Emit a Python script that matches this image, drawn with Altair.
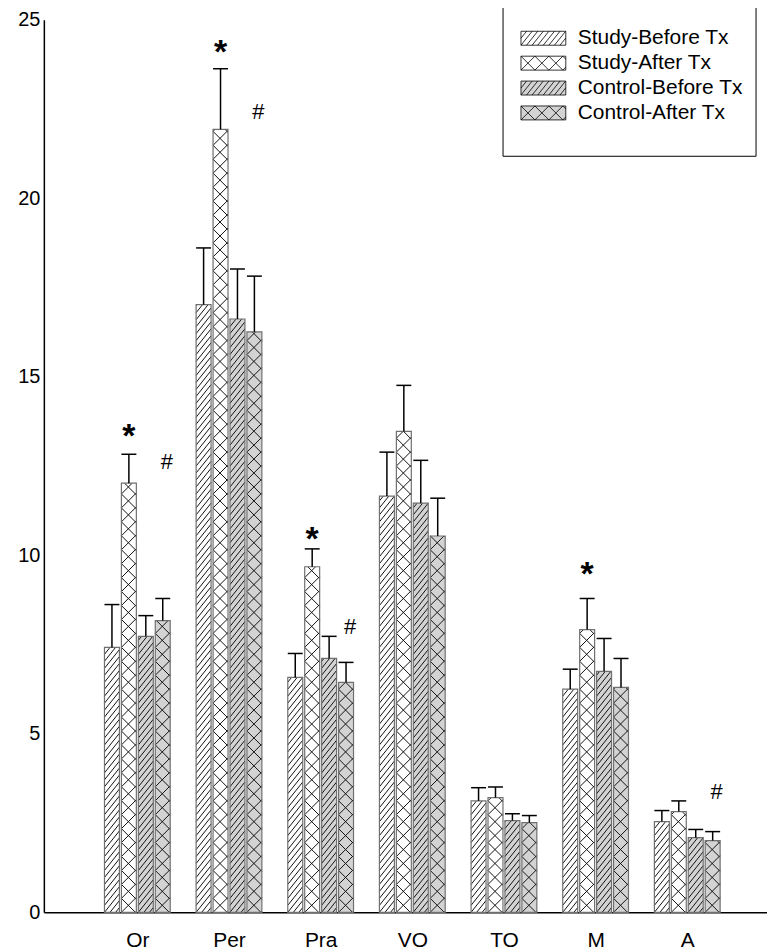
import altair as alt
import pandas as pd
import numpy as np

# ---------------- data ----------------
groups = ["Or", "Per", "Pra", "VO", "TO", "M", "A"]
series = ["Study-Before Tx", "Study-After Tx", "Control-Before Tx", "Control-After Tx"]

study_before = [7.42, 17.02, 6.58, 11.66, 3.12, 6.25, 2.54]
study_before_err = [1.20, 1.59, 0.67, 1.23, 0.37, 0.56, 0.31]
study_after = [12.02, 21.93, 9.68, 13.47, 3.21, 7.92, 2.82]
study_after_err = [0.81, 1.70, 0.50, 1.29, 0.30, 0.87, 0.30]
control_before = [7.73, 16.62, 7.11, 11.46, 2.57, 6.75, 2.09]
control_before_err = [0.58, 1.40, 0.62, 1.20, 0.19, 0.92, 0.23]
control_after = [8.17, 16.26, 6.44, 10.54, 2.51, 6.30, 2.01]
control_after_err = [0.62, 1.56, 0.56, 1.06, 0.20, 0.81, 0.25]

# significance marks: symbol, group index, series index, height
sig_symbol = ["*", "#", "*", "#", "*", "#", "*", "#"]
sig_group = [0, 0, 1, 1, 2, 2, 5, 6]
sig_series = [1, 3, 1, 3, 1, 3, 1, 3]
sig_y = [13.5, 12.61, 24.27, 22.43, 10.63, 8.0, 9.63, 3.38]

y_ticks = [0, 5, 10, 15, 20, 25]

# ---------------- layout / style ----------------
FONT = "Liberation Sans"
W, H = 726, 896
XMIN, XMAX = -1.02, 6.87
YMAX = 25
kx = W / (XMAX - XMIN)
ky = H / YMAX
BAR_W = 15.0   # px
BAR_STEP = 17.0  # px
fills = ["white", "white", "#d3d3d3", "#d3d3d3"]
pattern = ["diag", "cross", "diag", "cross"]
DIAG_SLOPE, DIAG_D = 1.25, 7.0
CROSS_SLOPE, CROSS_D = 1.0, 14.0

means = [study_before, study_after, control_before, control_after]
errs = [study_before_err, study_after_err, control_before_err, control_after_err]


def hatch(x0, x1, y0, y1, slope, d, sign):
    segs = []
    w = x1 - x0
    h = y1 - y0
    if sign > 0:
        cs = np.arange(-np.ceil(slope * w / d) * d, h + 1e-9, d)
    else:
        cs = np.arange(0, h + slope * w + 1e-9, d)
    for c in cs:
        xa = x0 + (-c) / (sign * slope)
        xb = x0 + (h - c) / (sign * slope)
        lo = max(x0, min(xa, xb))
        hi = min(x1, max(xa, xb))
        if hi - lo > 0.3:
            segs.append((lo, y0 + c + sign * slope * (lo - x0),
                         hi, y0 + c + sign * slope * (hi - x0)))
    return segs


def pattern_segments(kind, x0, x1, y0, y1):
    if kind == "diag":
        return hatch(x0, x1, y0, y1, DIAG_SLOPE, DIAG_D, 1)
    return hatch(x0, x1, y0, y1, CROSS_SLOPE, CROSS_D, 1) + hatch(x0, x1, y0, y1, CROSS_SLOPE, CROSS_D, -1)


bar_rows, hatch_rows = [], []
for s, name in enumerate(series):
    for g, grp in enumerate(groups):
        off = (s - 1.5) * BAR_STEP
        xc = g + off / kx
        xl = g + (off - BAR_W / 2) / kx
        xr = g + (off + BAR_W / 2) / kx
        m = means[s][g]
        e = errs[s][g]
        bar_rows.append(dict(group=grp, series=name, xc=xc, xl=xl, xr=xr,
                             mean=m, top=m + e, fillc=fills[s]))
        pl = (xl - XMIN) * kx
        pr = (xr - XMIN) * kx
        for (a, b, c, d) in pattern_segments(pattern[s], pl, pr, 0.0, m * ky):
            hatch_rows.append(dict(x=XMIN + a / kx, y=b / ky, x2=XMIN + c / kx, y2=d / ky))

bars = pd.DataFrame(bar_rows)
hatches = pd.DataFrame(hatch_rows)

sig_rows = []
for sym, g, s, y in zip(sig_symbol, sig_group, sig_series, sig_y):
    off = (s - 1.5) * BAR_STEP
    sig_rows.append(dict(sym=sym, x=g + off / kx, y=y))
sig = pd.DataFrame(sig_rows)

# legend symbol paths (unit = sqrt(size)/2 px)
LEG_SIZE = 196
unit = np.sqrt(LEG_SIZE) / 2
hw, hh = 22.5, 7.0


def legend_path(kind):
    p = f"M{-hw/unit:.3f},{-hh/unit:.3f}H{hw/unit:.3f}V{hh/unit:.3f}H{-hw/unit:.3f}Z"
    for (a, b, c, d) in pattern_segments(kind, -hw, hw, -hh, hh):
        p += f"M{a/unit:.3f},{-b/unit:.3f}L{c/unit:.3f},{-d/unit:.3f}"
    return p


shape_range = [legend_path(k) for k in pattern]

xs = alt.Scale(domain=[XMIN, XMAX], nice=False, zero=False)
ys = alt.Scale(domain=[0, YMAX], nice=False, zero=True)

label_expr = "[" + ",".join(f"'{g}'" for g in groups) + "][datum.value]"

x_axis = alt.Axis(values=list(range(len(groups))), labelExpr=label_expr, title=None,
                  ticks=False, tickSize=0, grid=False, labelFont=FONT, labelFontSize=21,
                  labelPadding=17, labelColor="black", domainColor="black", domainWidth=1.5)
y_axis = alt.Axis(values=y_ticks, title=None, ticks=False, tickSize=0, grid=False,
                  labelFont=FONT, labelFontSize=20, labelPadding=4, labelColor="black",
                  domainColor="black", domainWidth=1.5)

base = alt.Chart(bars)

bar_fill = base.mark_rect(strokeWidth=0).encode(
    x=alt.X("xl:Q", scale=xs, axis=x_axis),
    x2="xr:Q",
    y=alt.Y("mean:Q", scale=ys, axis=y_axis),
    y2=alt.datum(0),
    fill=alt.Fill("fillc:N", scale=None),
)

hatch_layer = alt.Chart(hatches).mark_rule(color="#111111", strokeWidth=1).encode(
    x=alt.X("x:Q", scale=xs), x2="x2:Q",
    y=alt.Y("y:Q", scale=ys), y2="y2:Q",
)

bar_outline = base.mark_rect(fillOpacity=0, stroke="#707070", strokeWidth=1.2).encode(
    x=alt.X("xl:Q", scale=xs), x2="xr:Q",
    y=alt.Y("mean:Q", scale=ys), y2=alt.datum(0),
)

err_line = base.mark_rule(color="black", strokeWidth=1.5).encode(
    x=alt.X("xc:Q", scale=xs),
    y=alt.Y("mean:Q", scale=ys), y2="top:Q",
)

cap = base.transform_calculate(
    cl=f"datum.xc - {BAR_W / 2 / kx}", cr=f"datum.xc + {BAR_W / 2 / kx}"
).mark_rule(color="black", strokeWidth=1.5).encode(
    x=alt.X("cl:Q", scale=xs), x2="cr:Q",
    y=alt.Y("top:Q", scale=ys),
)

stars = alt.Chart(sig).transform_filter("datum.sym == '*'").mark_text(
    font=FONT, fontSize=34, fontWeight="bold", color="black", baseline="middle", dy=7
).encode(x=alt.X("x:Q", scale=xs), y=alt.Y("y:Q", scale=ys), text="sym:N")

hashes = alt.Chart(sig).transform_filter("datum.sym == '#'").mark_text(
    font=FONT, fontSize=22, color="black", baseline="middle", dx=4
).encode(x=alt.X("x:Q", scale=xs), y=alt.Y("y:Q", scale=ys), text="sym:N")

legend = alt.Legend(title=None, orient="none", legendX=491, legendY=8, padding=0,
                    symbolSize=LEG_SIZE, symbolStrokeColor="black", symbolStrokeWidth=0.8,
                    symbolOpacity=1, labelFont=FONT, labelFontSize=21, labelColor="black",
                    labelOffset=24, rowPadding=3, labelLimit=400)

legend_pts = base.mark_point(filled=False, size=0, strokeWidth=0.8).encode(
    x=alt.X("xc:Q", scale=xs), y=alt.Y("mean:Q", scale=ys),
    fill=alt.Fill("series:N", scale=alt.Scale(domain=series, range=fills), legend=legend,
                  sort=series),
    stroke=alt.Stroke("series:N", scale=alt.Scale(domain=series, range=["black"] * 4),
                      legend=legend, sort=series),
    shape=alt.Shape("series:N", scale=alt.Scale(domain=series, range=shape_range), legend=legend,
                    sort=series),
)

frame = alt.Chart(pd.DataFrame({"a": [0]})).mark_rect(
    fillOpacity=0, stroke="black", strokeWidth=1
).encode(x=alt.value(461), x2=alt.value(715), y=alt.value(-13), y2=alt.value(137))

chart = alt.layer(
    bar_fill, hatch_layer, bar_outline, err_line, cap, stars, hashes, legend_pts, frame
).properties(
    width=W, height=H, autosize="none",
    padding={"left": 36, "top": 10, "right": 0, "bottom": 37},
).configure_view(stroke=None)

chart.save("out.html", embed_options={"renderer": "svg", "actions": False})
